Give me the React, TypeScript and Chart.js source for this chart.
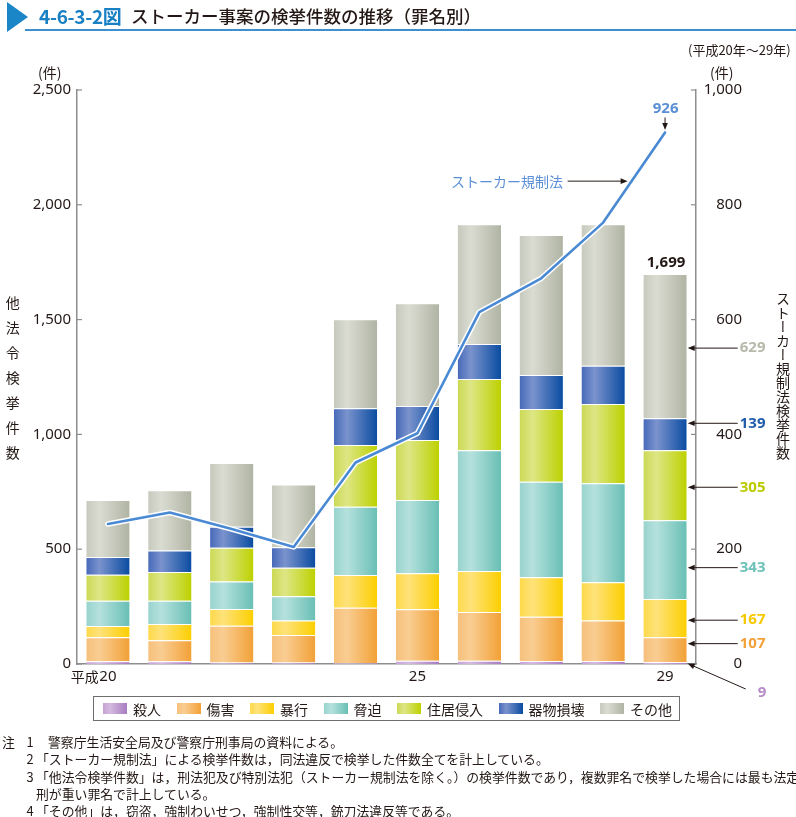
import React, { useEffect, useRef } from 'react';
import { Chart, registerables } from 'chart.js';

Chart.register(...registerables);

// ---------- data ----------
const YEARS = ['平成20', '21', '22', '23', '24', '25', '26', '27', '28', '29'];
const X_TICK_LABELS = ['20', '', '', '', '', '25', '', '', '', '29'];
const SERIES_NAMES = ['殺人', '傷害', '暴行', '脅迫', '住居侵入', '器物損壊', 'その他'];
const MURDER = [12, 12, 6, 6, 4, 14, 14, 13, 13, 9];
const INJURY = [104, 91, 161, 120, 241, 225, 213, 193, 177, 107];
const ASSAULT = [50, 71, 73, 63, 143, 156, 178, 172, 166, 167];
const INTIMIDATION = [109, 102, 119, 106, 297, 319, 526, 416, 431, 343];
const TRESPASS = [114, 125, 147, 124, 269, 262, 310, 317, 345, 305];
const PROPERTY_DAMAGE = [77, 93, 92, 90, 160, 148, 153, 148, 167, 139];
const OTHER = [248, 263, 277, 273, 387, 447, 521, 609, 616, 629];
const STALKER_LAW = [244, 264, 235, 204, 351, 402, 613, 672, 769, 926];
const LEFT_TICKS = [0, 500, 1000, 1500, 2000, 2500];
const RIGHT_TICKS = [0, 200, 400, 600, 800, 1000];
const NOTES = [
  '警察庁生活安全局及び警察庁刑事局の資料による。',
  '「ストーカー規制法」による検挙件数は，同法違反で検挙した件数全てを計上している。',
  '「他法令検挙件数」は，刑法犯及び特別法犯（ストーカー規制法を除く。）の検挙件数であり，複数罪名で検挙した場合には最も法定',
  '刑が重い罪名で計上している。',
  '「その他」は，窃盗，強制わいせつ，強制性交等，銃刀法違反等である。',
];
const NOTE_NUMBERS = ['1', '2', '3', '', '4'];

const SERIES = [MURDER, INJURY, ASSAULT, INTIMIDATION, TRESPASS, PROPERTY_DAMAGE, OTHER];

// ---------- styles ----------
const GRADIENTS = [
  ['#c6a3d6', '#d4badf', '#a77cc0'],
  ['#f6c07c', '#f9cd92', '#f2a136'],
  ['#fdd94a', '#fee27a', '#fccf00'],
  ['#98d3ce', '#b5e1dd', '#69bfb5'],
  ['#cbd955', '#dde685', '#bdd100'],
  ['#4669b9', '#7b93cd', '#0a4ca1'],
  ['#c6c9bc', '#dadcd2', '#b0b4a3'],
];
const LABEL_COLORS = ['#b68cc7', '#f3a23a', '#f5c800', '#6cc1b8', '#bccb00', '#1e5bab', '#b7baab'];
const LABEL_OFFSETS = [0, -6, 2, 8, 2, -11, 2];
const TEXT = '#231815';
const AXIS = '#8e8e8e';
const LINE_BLUE = '#4a89d3';
const LABEL_BLUE = '#5b8fd6';
const JP = '"Noto Sans CJK JP", "Noto Sans", sans-serif';
const NUM = '"Noto Sans", "Noto Sans CJK JP", sans-serif';
const BAR_PCT = 0.7;

function barGradient(c: any, i: number) {
  const chart = c.chart;
  const xs = chart.scales && chart.scales.x;
  if (!xs || c.dataIndex === undefined || !chart.chartArea) return GRADIENTS[i][1];
  const cx = xs.getPixelForValue(c.dataIndex);
  const w = (xs.width / YEARS.length) * BAR_PCT;
  const g = chart.ctx.createLinearGradient(cx - w / 2, 0, cx + w / 2, 0);
  g.addColorStop(0, GRADIENTS[i][0]);
  g.addColorStop(0.3, GRADIENTS[i][1]);
  g.addColorStop(1, GRADIENTS[i][2]);
  return g;
}

function arrow(ctx: CanvasRenderingContext2D, x1: number, y1: number, x2: number, y2: number) {
  const a = Math.atan2(y2 - y1, x2 - x1);
  const hl = 7;
  const hw = 2.8;
  ctx.beginPath();
  ctx.moveTo(x1, y1);
  ctx.lineTo(x2 - hl * 0.7 * Math.cos(a), y2 - hl * 0.7 * Math.sin(a));
  ctx.stroke();
  ctx.beginPath();
  ctx.moveTo(x2, y2);
  ctx.lineTo(x2 - hl * Math.cos(a) + hw * Math.sin(a), y2 - hl * Math.sin(a) - hw * Math.cos(a));
  ctx.lineTo(x2 - hl * Math.cos(a) - hw * Math.sin(a), y2 - hl * Math.sin(a) + hw * Math.cos(a));
  ctx.closePath();
  ctx.fill();
}

const decorPlugin = {
  id: 'decor',
  afterDraw(chart: any) {
    const ctx: CanvasRenderingContext2D = chart.ctx;
    const xs = chart.scales.x;
    const ys = chart.scales.y;
    const y2 = chart.scales.y2;
    const area = chart.chartArea;
    ctx.save();
    // inward tick marks
    ctx.strokeStyle = AXIS;
    ctx.lineWidth = 1.2;
    LEFT_TICKS.forEach((v) => {
      const py = ys.getPixelForValue(v);
      ctx.beginPath();
      ctx.moveTo(area.left, py);
      ctx.lineTo(area.left + 5, py);
      ctx.stroke();
    });
    RIGHT_TICKS.forEach((v) => {
      const py = y2.getPixelForValue(v);
      ctx.beginPath();
      ctx.moveTo(area.right - 5, py);
      ctx.lineTo(area.right, py);
      ctx.stroke();
    });

    // 平成 prefix of first x label
    ctx.font = `15px ${NUM}`;
    const w20 = ctx.measureText(X_TICK_LABELS[0]).width;
    ctx.font = `14px ${JP}`;
    ctx.fillStyle = TEXT;
    ctx.textAlign = 'right';
    ctx.textBaseline = 'middle';
    ctx.fillText('平成', xs.getPixelForValue(0) - w20 / 2 - 0.5, area.bottom + 13);

    const last = YEARS.length - 1;
    const cx = xs.getPixelForValue(last);
    const bw = (xs.width / YEARS.length) * BAR_PCT;
    const barRight = cx + bw / 2;

    // total label
    const total = SERIES.reduce((s, arr) => s + arr[last], 0);
    ctx.font = `bold 15px ${NUM}`;
    ctx.textAlign = 'center';
    ctx.fillStyle = TEXT;
    ctx.fillText(total.toLocaleString('en-US'), cx + 1, ys.getPixelForValue(total) - 11);

    // right-side segment labels
    ctx.lineWidth = 1;
    let cum = 0;
    SERIES.forEach((arr, i) => {
      const v = arr[last];
      const mid = cum + v / 2;
      cum += v;
      ctx.strokeStyle = TEXT;
      ctx.fillStyle = TEXT;
      ctx.font = `bold 15px ${NUM}`;
      ctx.textAlign = 'left';
      if (i === 0) {
        const py = ys.getPixelForValue(0) - 0.5;
        arrow(ctx, barRight + 59, py + 25.5, barRight + 1, py);
        ctx.fillStyle = LABEL_COLORS[i];
        ctx.fillText(String(v), barRight + 71, py + 29);
      } else {
        const py = ys.getPixelForValue(mid) + LABEL_OFFSETS[i];
        arrow(ctx, barRight + 51, py, barRight + 1, py);
        ctx.fillStyle = LABEL_COLORS[i];
        ctx.fillText(String(v), barRight + 53, py);
      }
    });

    // last value label of the line
    const lastVal = STALKER_LAW[last];
    const lp = y2.getPixelForValue(lastVal);
    ctx.fillStyle = LABEL_BLUE;
    ctx.font = `bold 15px ${NUM}`;
    ctx.textAlign = 'center';
    ctx.fillText(String(lastVal), cx + 0.6, lp - 24);
    ctx.fillStyle = TEXT;
    ctx.strokeStyle = TEXT;
    arrow(ctx, cx, lp - 15, cx, lp - 2.5);

    // series label with arrow
    const t = 0.46;
    const ax = xs.getPixelForValue(last - 1) * (1 - t) + cx * t;
    const ay = y2.getPixelForValue(STALKER_LAW[last - 1]) * (1 - t) + lp * t;
    arrow(ctx, ax - 64, ay, ax - 4, ay);
    ctx.fillStyle = LABEL_BLUE;
    ctx.font = `14px ${JP}`;
    ctx.textAlign = 'right';
    ctx.fillText('ストーカー規制法', ax - 68.5, ay + 1);
    ctx.restore();
  },
};

export default function App() {
  const ref = useRef<HTMLCanvasElement>(null);

  useEffect(() => {
    if (!ref.current) return;
    const barSets = SERIES.map((vals, i) => ({
      type: 'bar' as const,
      label: SERIES_NAMES[i],
      data: vals,
      yAxisID: 'y',
      stack: 'crimes',
      order: 10,
      backgroundColor: (c: any) => barGradient(c, i),
      borderColor: 'rgba(255,255,255,0.6)',
      borderWidth: { top: 1, left: 0, right: 0, bottom: 0 },
      borderSkipped: false as const,
      barPercentage: BAR_PCT,
      categoryPercentage: 1,
    }));
    const chart = new Chart(ref.current, {
      type: 'bar',
      data: {
        labels: YEARS,
        datasets: [
          ...barSets,
          {
            type: 'line' as const,
            label: 'ストーカー規制法',
            data: STALKER_LAW,
            yAxisID: 'y2',
            borderColor: LINE_BLUE,
            borderWidth: 2.6,
            pointRadius: 0,
            tension: 0,
            order: 0,
            borderJoinStyle: 'round' as const,
            borderCapStyle: 'round' as const,
          },
          {
            type: 'line' as const,
            label: 'outline',
            data: STALKER_LAW,
            yAxisID: 'y2',
            borderColor: '#ffffff',
            borderWidth: 5.6,
            pointRadius: 0,
            tension: 0,
            order: 1,
            borderJoinStyle: 'round' as const,
            borderCapStyle: 'round' as const,
          },
        ] as any,
      },
      options: {
        responsive: false,
        animation: false,
        devicePixelRatio: 1,
        layout: { padding: { top: 90, right: 54, bottom: 0, left: 0 } },
        plugins: { legend: { display: false }, tooltip: { enabled: false } },
        scales: {
          x: {
            stacked: true,
            grid: { display: false, drawTicks: false },
            border: { display: true, color: AXIS, width: 1.5 },
            ticks: {
              autoSkip: false,
              maxRotation: 0,
              padding: 4,
              color: TEXT,
              font: { family: NUM, size: 15 },
              callback: (_v: any, i: number) => X_TICK_LABELS[i],
            },
            afterFit: (s: any) => {
              s.height = 817 - 664;
            },
          },
          y: {
            position: 'left',
            stacked: true,
            min: 0,
            max: 2500,
            grid: { display: false, drawTicks: false },
            border: { display: true, color: AXIS, width: 1.5 },
            ticks: {
              stepSize: 500,
              padding: 6,
              color: TEXT,
              font: { family: NUM, size: 15 },
              callback: (v: any) => Number(v).toLocaleString('en-US'),
            },
            afterFit: (s: any) => {
              s.width = 77;
            },
          },
          y2: {
            position: 'right',
            stacked: false,
            min: 0,
            max: 1000,
            grid: { display: false, drawTicks: false },
            border: { display: true, color: AXIS, width: 1.5 },
            ticks: {
              stepSize: 200,
              padding: 4,
              crossAlign: 'far',
              color: TEXT,
              font: { family: NUM, size: 15 },
              callback: (v: any) => Number(v).toLocaleString('en-US'),
            },
            afterFit: (s: any) => {
              s.width = 742 - 696;
            },
          },
        },
      } as any,
      plugins: [decorPlugin],
    });
    return () => chart.destroy();
  }, []);

  const abs = (left: number, top: number, extra: React.CSSProperties = {}): React.CSSProperties => ({
    position: 'absolute',
    left,
    top,
    whiteSpace: 'nowrap',
    ...extra,
  });

  const noteFont: React.CSSProperties = { fontSize: 12.85, lineHeight: '17.4px' };

  return (
    <div
      style={{
        position: 'absolute',
        left: 0,
        top: 0,
        width: 796,
        height: 817,
        overflow: 'hidden',
        background: '#ffffff',
        fontFamily: JP,
        color: TEXT,
      }}
    >
      <canvas
        ref={ref}
        width={796}
        height={817}
        style={{ position: 'absolute', left: 0, top: 0, width: 796, height: 817 }}
      />
      {/* title */}
      <div
        style={abs(7, 2, {
          width: 21,
          height: 30,
          background: '#1a86c7',
          clipPath: 'polygon(0 0, 100% 50%, 0 100%)',
        })}
      />
      <div style={abs(39, 5.5, { fontSize: 19, lineHeight: '19px', fontWeight: 700, color: '#1a80c4', letterSpacing: -0.3 })}>
        4-6-3-2図
      </div>
      <div style={abs(131, 7, { fontSize: 17.5, lineHeight: '17.5px', fontWeight: 500 })}>
        ストーカー事案の検挙件数の推移（罪名別）
      </div>
      <div style={abs(25, 28.5, { width: 771, height: 2, background: '#3d8fcf' })} />

      <div style={abs(688, 43, { fontSize: 13, lineHeight: '13px' })}>(平成20年～29年)</div>
      <div style={abs(38, 65.3, { fontSize: 14, lineHeight: '14px' })}>(件)</div>
      <div style={abs(710, 65.3, { fontSize: 14, lineHeight: '14px' })}>(件)</div>

      {/* axis titles */}
      <div
        style={abs(5.7, 296.3, {
          writingMode: 'vertical-rl',
          fontSize: 14,
          lineHeight: '14px',
          width: 14,
          letterSpacing: 11,
        })}
      >
        他法令検挙件数
      </div>
      <div
        style={abs(776, 292, {
          writingMode: 'vertical-rl',
          fontSize: 14,
          lineHeight: '14px',
          width: 14,
        })}
      >
        ストーカー規制法検挙件数
      </div>

      {/* legend */}
      <div
        style={abs(93, 696, {
          width: 587,
          height: 25,
          boxSizing: 'border-box',
          border: '1px solid #6e6e6e',
          display: 'flex',
          alignItems: 'center',
          paddingLeft: 9,
        })}
      >
        {SERIES_NAMES.map((name, i) => (
          <div key={name} style={{ display: 'flex', alignItems: 'center', marginRight: 15.5 }}>
            <div
              style={{
                width: 24,
                height: 11,
                background: `linear-gradient(to right, ${GRADIENTS[i][0]} 0%, ${GRADIENTS[i][1]} 30%, ${GRADIENTS[i][2]} 100%)`,
                marginRight: 6,
              }}
            />
            <span style={{ fontSize: 14, lineHeight: '16px' }}>{name}</span>
          </div>
        ))}
      </div>

      {/* notes */}
      <div style={abs(2, 733, noteFont)}>注</div>
      {NOTES.map((n, i) => {
        const top = 733 + i * 17.35;
        const num = NOTE_NUMBERS[i];
        return (
          <React.Fragment key={i}>
            {num && <div style={abs(26.5, top, noteFont)}>{num}</div>}
            <div style={abs(i === 0 ? 48 : 36, top, noteFont)}>{n}</div>
          </React.Fragment>
        );
      })}
    </div>
  );
}
